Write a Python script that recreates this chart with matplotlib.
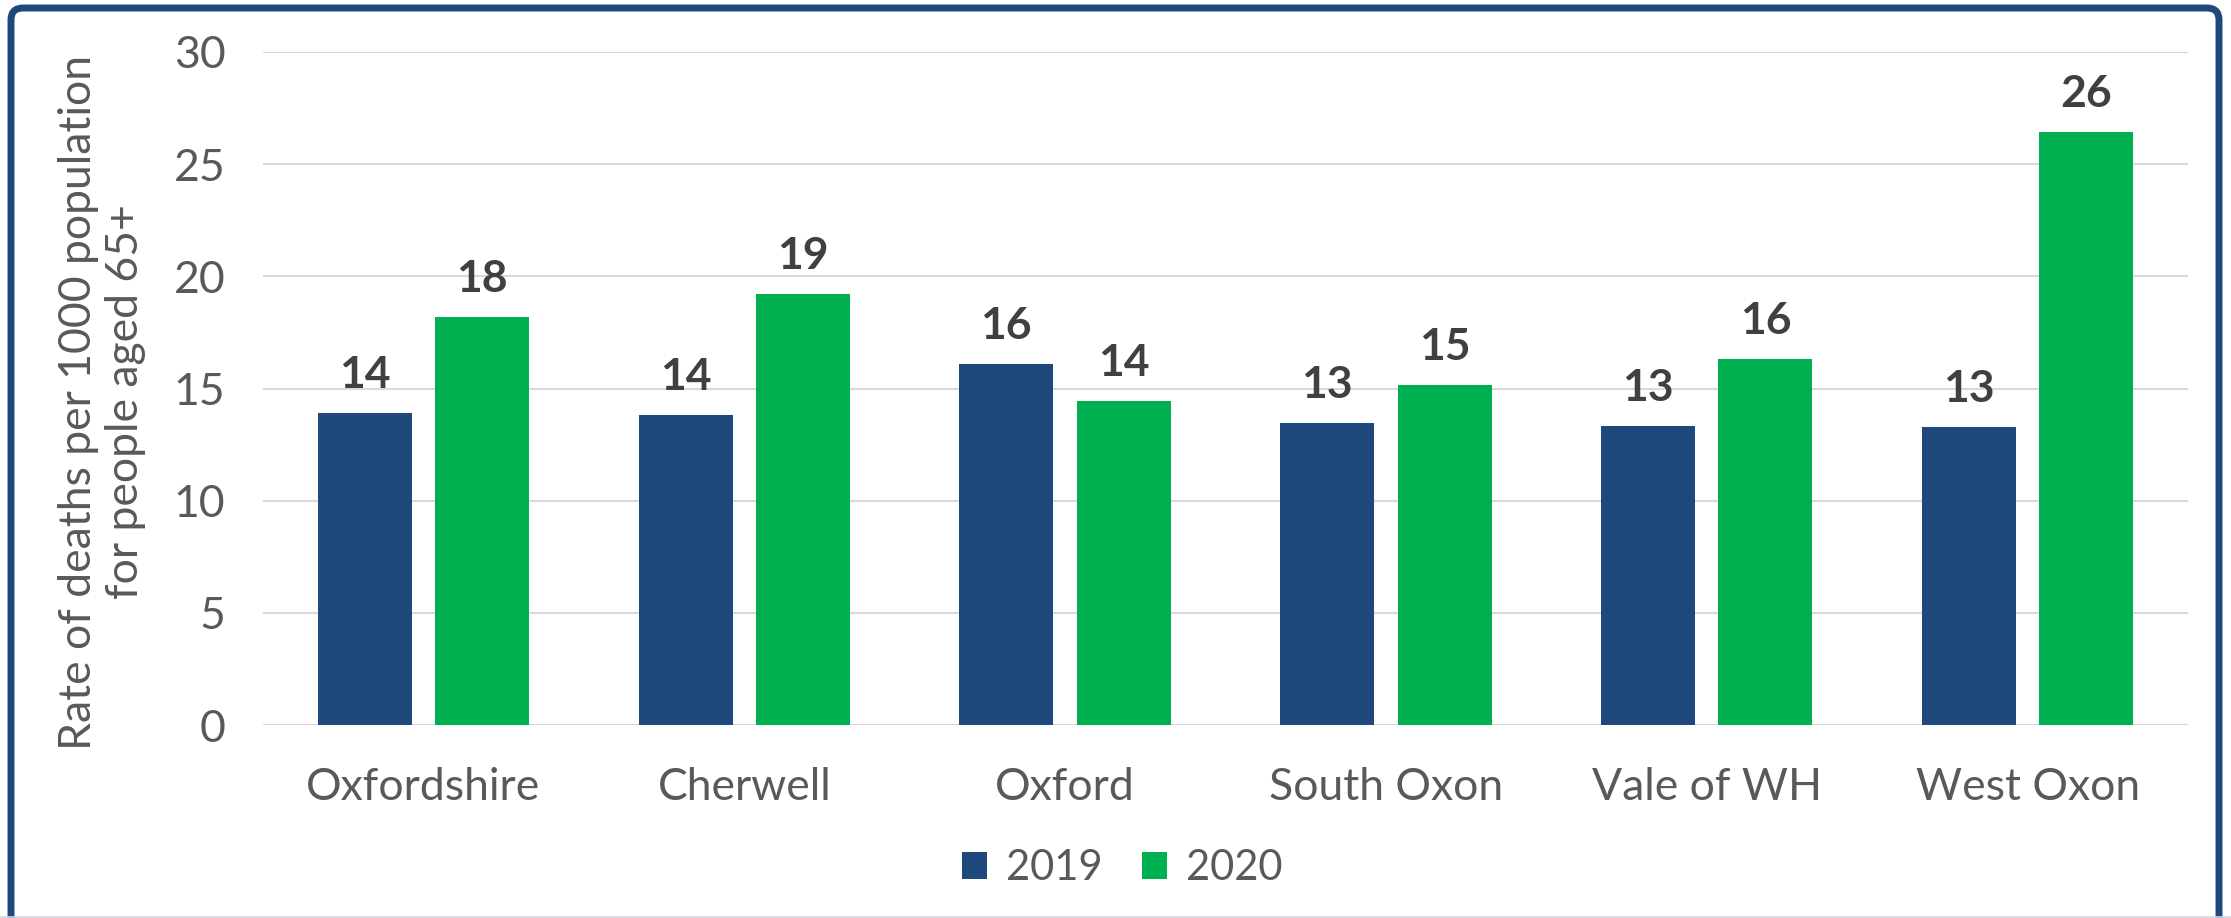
import matplotlib
matplotlib.use("Agg")
import matplotlib.pyplot as plt
import numpy as np
from matplotlib.patches import FancyBboxPatch
from matplotlib.lines import Line2D
from matplotlib.transforms import IdentityTransform

categories = ["Oxfordshire", "Cherwell", "Oxford", "South Oxon", "Vale of WH", "West Oxon"]
series_names = ["2019", "2020"]
values_2019 = [13.9, 13.8, 16.1, 13.45, 13.35, 13.3]
values_2020 = [18.2, 19.2, 14.45, 15.15, 16.3, 26.45]
y_ticks = [0, 5, 10, 15, 20, 25, 30]
y_label = "Rate of deaths per 1000 population\nfor people aged 65+"

col_2019 = "#1F497D"
col_2020 = "#00B050"
border_col = "#1F497D"
tick_col = "#595959"
label_col = "#404040"

plt.rcParams['font.family'] = ['Lato', 'DejaVu Sans']

W, H = 2231, 918
fig = plt.figure(figsize=(W / 100, H / 100), dpi=100)
fig.patch.set_facecolor("white")

ax_l, ax_r, ax_t, ax_b = 263, 2188, 52, 725
ax = fig.add_axes([ax_l / W, (H - ax_b) / H, (ax_r - ax_l) / W, (ax_b - ax_t) / H])

x = np.arange(len(categories))
bw = 0.293
off = 0.183
b1 = ax.bar(x - off, values_2019, bw, color=col_2019, label=series_names[0], zorder=3)
b2 = ax.bar(x + off, values_2020, bw, color=col_2020, label=series_names[1], zorder=3)

for bars, vals in ((b1, values_2019), (b2, values_2020)):
    for rect, v in zip(bars, vals):
        ax.annotate(f"{int(round(v))}", (rect.get_x() + rect.get_width() / 2, v),
                    xytext=(0, 18), textcoords="offset points", ha="center",
                    va="baseline", fontsize=32, fontweight="bold", color=label_col)

ax.set_xlim(-0.5, len(categories) - 0.5)
ax.set_ylim(0, 30)
ax.set_yticks(y_ticks)
ax.set_xticks(x)
ax.set_xticklabels(categories)
ax.tick_params(axis="both", length=0, labelsize=32, labelcolor=tick_col)
ax.tick_params(axis="y", pad=27)
ax.tick_params(axis="x", pad=30)
ax.grid(axis="y", color="#D9D9D9", linewidth=1.5, zorder=0)
ax.set_axisbelow(True)
for s in ax.spines.values():
    s.set_visible(False)

ax.text((102 - ax_l) / (ax_r - ax_l), (ax_b - 402) / (ax_b - ax_t), y_label,
        rotation=90, ha="center", va="center", multialignment="center",
        fontsize=32, color=tick_col, linespacing=1.2, transform=ax.transAxes)

leg = fig.legend(handles=[b1, b2], labels=series_names, loc="center",
                 bbox_to_anchor=(1122 / W, (H - 868) / H), ncol=2, frameon=False,
                 fontsize=30, handlelength=0.6, handleheight=0.6,
                 handletextpad=0.45, columnspacing=0.95, labelcolor=tick_col)

border = FancyBboxPatch((11, -40), 2219 - 11, (H - 8) + 40,
                        boxstyle="round,pad=0,rounding_size=12",
                        transform=IdentityTransform(), fill=False,
                        edgecolor=border_col, linewidth=5.0)
fig.patches.append(border)
fig.add_artist(Line2D([0, 1], [0.7 / H, 0.7 / H], transform=fig.transFigure,
                      color="#D0D8E2", linewidth=1.2))

fig.savefig("out.png", dpi=100)
